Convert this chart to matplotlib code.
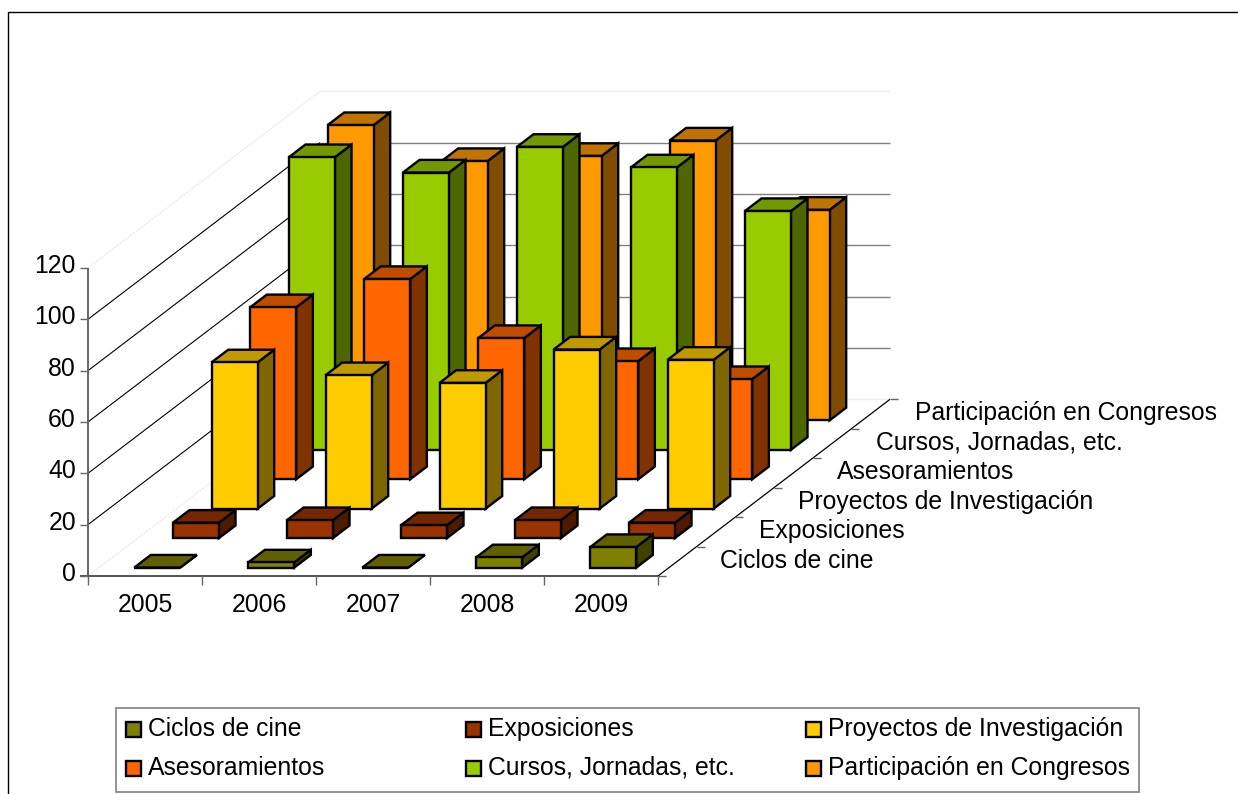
import matplotlib
matplotlib.use("Agg")
import matplotlib.pyplot as plt
from matplotlib.patches import Polygon, Rectangle

plt.rcParams['font.family'] = ['Liberation Sans', 'DejaVu Sans']

years = ['2005', '2006', '2007', '2008', '2009']
series = ['Ciclos de cine', 'Exposiciones', 'Proyectos de Investigación',
          'Asesoramientos', 'Cursos, Jornadas, etc.', 'Participación en Congresos']

ciclos = [0, 2, 0, 4, 8]
exposiciones = [6, 7, 5, 7, 6]
proyectos = [57, 52, 49, 62, 58]
asesoramientos = [67, 78, 55, 46, 39]
cursos = [114, 108, 118, 110, 93]
participacion = [115, 101, 103, 109, 82]
values = [ciclos, exposiciones, proyectos, asesoramientos, cursos, participacion]

# front, top, side
colors = [('#808000', '#606000', '#404000'),
          ('#993300', '#732600', '#4d1a00'),
          ('#ffcc00', '#bf9900', '#806600'),
          ('#ff6600', '#bf4d00', '#803300'),
          ('#99cc00', '#739900', '#4d6600'),
          ('#ff9900', '#bf7300', '#804d00')]

yticks = [0, 20, 40, 60, 80, 100, 120]

# layout in pixels of the 1238x794 picture
X0, Y0 = 88, 576
CAT_W = 114
UNIT_H = 2.567
DEPTH_X = 38.67 / CAT_W    # one series back, in category units
DEPTH_V = 29.45 / UNIT_H   # one series back, in value units
BAR_W = 46 / CAT_W
BAR_D = 0.43
BAR_SHIFT = 1.2 / CAT_W
FS = 17.8

fig = plt.figure(figsize=(12.38, 7.94), dpi=100)
ax = fig.add_axes([0, 0, 1, 1])
ax.set_xlim(-X0 / CAT_W, (1238 - X0) / CAT_W)
ax.set_ylim((Y0 - 794) / UNIT_H, Y0 / UNIT_H)
ax.axis('off')


def proj(c, v, d):
    # oblique projection: category, value, depth
    return (c + d * DEPTH_X, v + d * DEPTH_V)


def px(x, y):
    # picture pixel to data position, for frame and labels
    return ((x - X0) / CAT_W, (Y0 - y) / UNIT_H)


def line(p, q, **kw):
    ax.plot([p[0], q[0]], [p[1], q[1]], solid_capstyle='butt', **kw)


def box(xa, ya, xb, yb, **kw):
    a = px(xa, ya)
    b = px(xb, yb)
    ax.add_patch(Rectangle(a, b[0] - a[0], b[1] - a[1], **kw))


n_cat = len(years)
n_ser = len(series)

# frame
box(8, 12, 1245, 800, fc='white', ec='black', lw=1.0, zorder=0)

# walls
for v in yticks:
    faint = v in (0, 120)
    col = '#e8e8e8' if faint else 'black'
    ls = (0, (2, 1)) if faint else '-'
    line(proj(0, v, 0), proj(0, v, n_ser), color=col, lw=0.8, ls=ls, zorder=1)
    col = '#efefef' if faint else '#808080'
    line(proj(0, v, n_ser), proj(n_cat, v, n_ser), color=col, lw=1.0, zorder=1)

# bars, back to front
z = 2
for s in range(n_ser - 1, -1, -1):
    d0 = s + 0.5 - BAR_D / 2
    d1 = s + 0.5 + BAR_D / 2
    for c in range(n_cat):
        v = values[s][c]
        c0 = c + 0.5 - BAR_W / 2 + BAR_SHIFT
        c1 = c + 0.5 + BAR_W / 2 + BAR_SHIFT
        front = [proj(c0, 0, d0), proj(c1, 0, d0), proj(c1, v, d0), proj(c0, v, d0)]
        top = [proj(c0, v, d0), proj(c1, v, d0), proj(c1, v, d1), proj(c0, v, d1)]
        side = [proj(c1, 0, d0), proj(c1, 0, d1), proj(c1, v, d1), proj(c1, v, d0)]
        for pts, col in zip((side, top, front), (colors[s][2], colors[s][1], colors[s][0])):
            ax.add_patch(Polygon(pts, closed=True, fc=col, ec='black', lw=1.7,
                                 joinstyle='miter', zorder=z))
            z += 1

# axes
axis_col = '#666666'
line(proj(0, 0, 0), proj(0, 120, 0), color=axis_col, lw=1.4, zorder=z)
line(proj(-0.07, 0, 0), proj(n_cat, 0, 0), color='#555555', lw=1.4, zorder=z)
line(proj(n_cat, 0, 0), proj(n_cat, 0, n_ser), color='black', lw=0.9, zorder=z)
for v in yticks:
    line(proj(-0.07, v, 0), proj(0, v, 0), color=axis_col, lw=1.0, zorder=z)
    x, y = px(76, Y0 - v * UNIT_H + 5)
    ax.text(x, y, str(v), ha='right', va='baseline', fontsize=FS, color='black')
for c in range(n_cat + 1):
    line(proj(c, 0, 0), proj(c, -3.5, 0), color=axis_col, lw=1.0, zorder=z)
for c, year in enumerate(years):
    x, y = px(88 + CAT_W * (c + 0.5), 612)
    ax.text(x, y, year, ha='center', va='baseline', fontsize=FS)
for s in range(n_ser + 1):
    p = proj(n_cat, 0, s)
    line(p, (p[0] + 8 / CAT_W, p[1]), color=axis_col, lw=1.0, zorder=z)
for s, name in enumerate(series):
    x, y = px(720 + 39 * s, 568 - 29.6 * s)
    ax.text(x, y, name, ha='left', va='baseline', fontsize=FS)

# legend
box(116, 708, 1139, 792, fc='white', ec='#808080', lw=1.2, zorder=z)
z += 1
leg_x = [126, 466, 806]
leg_y = [722, 761]
for s, name in enumerate(series):
    lx = leg_x[s % 3]
    ly = leg_y[s // 3]
    box(lx, ly, lx + 15, ly + 14.5, fc=colors[s][0], ec='black', lw=1.7, zorder=z)
    x, y = px(lx + 22, ly + 14)
    ax.text(x, y, name, ha='left', va='baseline', fontsize=FS, zorder=z)

fig.savefig('out.png', dpi=100)
